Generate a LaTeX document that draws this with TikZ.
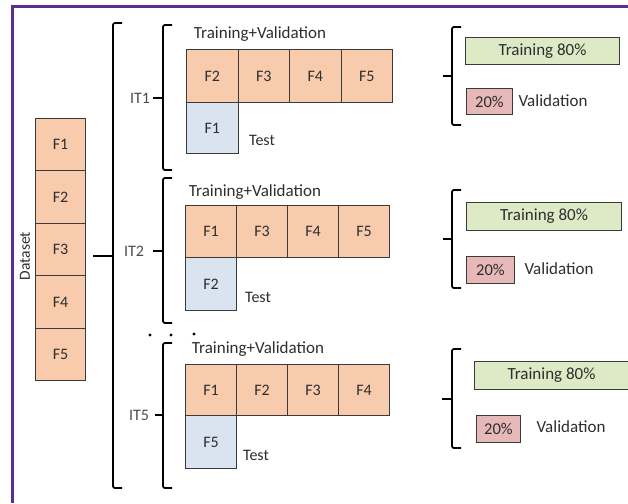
\documentclass[tikz,border=0pt]{standalone}
\usepackage{fontspec}
\setmainfont{Carlito}
\definecolor{peach}{HTML}{F8CBAD}
\definecolor{testblue}{HTML}{DAE3F0}
\definecolor{trgreen}{HTML}{DEE9C6}
\definecolor{valpink}{HTML}{E6B9B8}
\definecolor{boxline}{HTML}{3A3A3A}
\definecolor{frameviolet}{HTML}{5B2C91}
\definecolor{txt}{HTML}{2E2E2E}
\newcommand\ourbracket[5]{%
  \draw[brk] (#1+9,#2) -- (#1,#2) -- (#1,#3) -- (#1+9,#3);
  \draw[brk] (#1,#4) -- (#5,#4);}
\begin{document}
\begin{tikzpicture}[x=1pt,y=-1pt,
  cell/.style={draw=boxline, line width=1pt, fill=peach, minimum width=51pt,
    minimum height=52pt, inner sep=0pt, anchor=north west,
    font=\fontsize{16}{16}\selectfont, text=txt},
  testcell/.style={cell, fill=testblue},
  lbl/.style={font=\fontsize{16}{16}\selectfont, text=txt, inner sep=0pt},
  biglbl/.style={font=\fontsize{17}{17}\selectfont, text=txt, inner sep=0pt},
  itlbl/.style={font=\fontsize{16}{16}\selectfont, text=black!70, inner sep=0pt},
  trbar/.style={draw=boxline, line width=1pt, fill=trgreen, anchor=north west,
    inner sep=0pt, font=\fontsize{17}{17}\selectfont, text=txt},
  valbox/.style={draw=boxline, line width=1pt, fill=valpink, anchor=north west,
    inner sep=0pt, minimum width=46pt, minimum height=26pt,
    font=\fontsize{16.5}{16.5}\selectfont, text=txt},
  brk/.style={draw=black, line width=1.8pt, rounded corners=2pt},
  dotmark/.style={circle, fill=black, inner sep=0pt, minimum size=3.2pt}]
\useasboundingbox (0,0) rectangle (628,503);
\fill[white] (0,0) rectangle (628,503);
% frame
\draw[frameviolet, line width=3pt] (12,503) -- (12,7) -- (628,7);

% dataset column
\node[rotate=90, lbl, font=\fontsize{15.5}{15.5}\selectfont] (ds) at (25,256) {Dataset};
\node[cell, minimum width=50pt, minimum height=52.4pt] (d1) at (35,118) {F1};
\node[cell, minimum width=50pt, minimum height=52.4pt] (d2) at (35,170.4) {F2};
\node[cell, minimum width=50pt, minimum height=52.4pt] (d3) at (35,222.8) {F3};
\node[cell, minimum width=50pt, minimum height=52.4pt] (d4) at (35,275.2) {F4};
\node[cell, minimum width=50pt, minimum height=52.4pt] (d5) at (35,327.6) {F5};

% big bracket
\ourbracket{113}{23}{488}{256}{93}

% IT1
\ourbracket{163}{25}{170}{98}{153}
\node[itlbl] (it1) at (140,98) {IT1};
\node[biglbl] (tv1) at (260,34) {Training+Validation};
\node[cell, minimum width=51.5pt, minimum height=53pt] (a1) at (186,49) {F2};
\node[cell, minimum width=51.5pt, minimum height=53pt] (a2) at (237.5,49) {F3};
\node[cell, minimum width=51.5pt, minimum height=53pt] (a3) at (289,49) {F4};
\node[cell, minimum width=51.5pt, minimum height=53pt] (a4) at (340.5,49) {F5};
\node[testcell, minimum width=51.5pt, minimum height=51pt] (at) at (186,102) {F1};
\node[lbl] (test1) at (262,140) {Test};

% IT2
\ourbracket{163}{178}{323}{251}{153}
\node[itlbl] (it2) at (134,251) {IT2};
\node[biglbl] (tv2) at (255,192) {Training+Validation};
\node[cell] (b1) at (185,205) {F1};
\node[cell] (b2) at (236,205) {F3};
\node[cell] (b3) at (287,205) {F4};
\node[cell] (b4) at (338,205) {F5};
\node[testcell, minimum height=53pt] (bt) at (185,257) {F2};
\node[lbl] (test2) at (258,297) {Test};

% dots
\node[dotmark] (dt1) at (150,335) {};
\node[dotmark] (dt2) at (171,335) {};
\node[dotmark] (dt3) at (194,334) {};

% IT5
\ourbracket{163}{343}{488}{415}{155}
\node[itlbl] (it5) at (139,415) {IT5};
\node[biglbl] (tv5) at (258,349) {Training+Validation};
\node[cell, minimum height=51pt] (c1) at (185,364) {F1};
\node[cell, minimum height=51pt] (c2) at (236,364) {F2};
\node[cell, minimum height=51pt] (c3) at (287,364) {F3};
\node[cell, minimum height=51pt] (c4) at (338,364) {F4};
\node[testcell, minimum height=53pt] (ct) at (185,415) {F5};
\node[lbl] (test5) at (256,455) {Test};

% right side IT1
\ourbracket{452}{27}{125}{76}{443}
\node[trbar, minimum width=154pt, minimum height=27pt] (tr1) at (465,37) {Training 80\%};
\node[valbox] (v1) at (466,88) {20\%};
\node[biglbl] (vl1) at (553,101) {Validation};

% right side IT2
\ourbracket{452}{190}{288}{239}{443}
\node[trbar, minimum width=155pt, minimum height=28pt] (tr2) at (466,202) {Training 80\%};
\node[valbox, minimum width=48pt, minimum height=27pt] (v2) at (466,256) {20\%};
\node[biglbl] (vl2) at (559,269) {Validation};

% right side IT5
\ourbracket{452}{349}{448}{399}{442}
\node[trbar, minimum width=154pt, minimum height=28pt] (tr5) at (474,361) {Training 80\%};
\node[valbox, minimum width=44pt, minimum height=27pt] (v5) at (476,415) {20\%};
\node[biglbl] (vl5) at (571,427) {Validation};
\end{tikzpicture}
\end{document}
